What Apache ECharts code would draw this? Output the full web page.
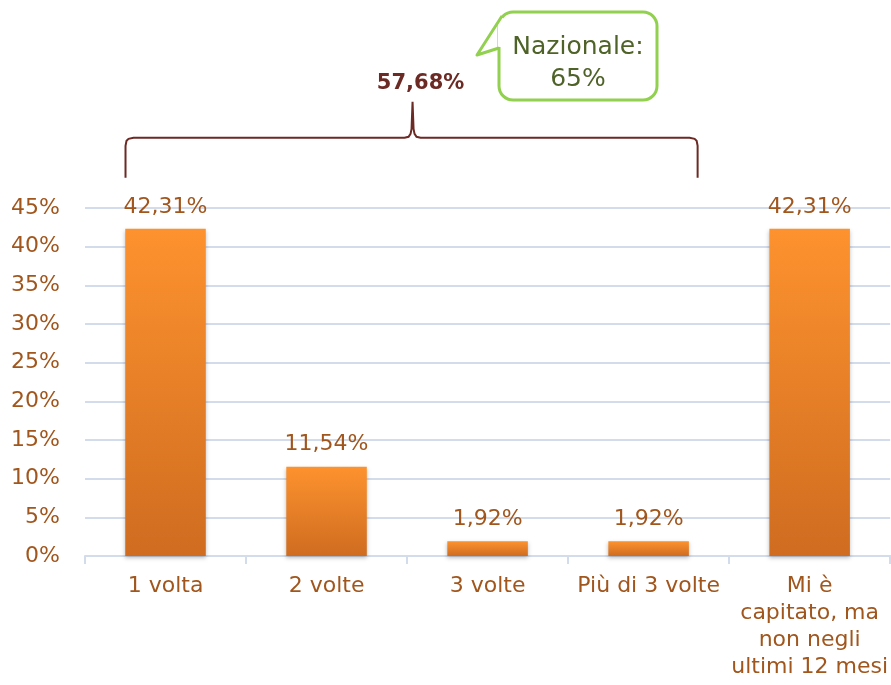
<!DOCTYPE html>
<html>
<head>
<meta charset="utf-8">
<script src="https://cdn.jsdelivr.net/npm/echarts@6/dist/echarts.min.js"></script>
<style>
  html, body { margin: 0; padding: 0; background: #fff; }
  #chart { width: 891px; height: 685px; }
</style>
</head>
<body>
<div id="chart"></div>
<script>
  // categories and values
  const categories = ['1 volta', '2 volte', '3 volte', 'Più di 3 volte', 'Mi è\ncapitato, ma\nnon negli\nultimi 12 mesi']
  const values = [42.31, 11.54, 1.92, 1.92, 42.31]
  const braceLabel = '57,68%'
  const calloutText = 'Nazionale:\n65%'

  const brown = '#a0561d'
  const fontFamily = '"DejaVu Sans", sans-serif'

  const chart = echarts.init(document.getElementById('chart'))

  chart.setOption({
    animation: false,
    grid: {
      left: 85,
      right: 0,
      top: 208,
      bottom: 129
    },
    xAxis: {
      type: 'category',
      data: categories,
      axisLine: { lineStyle: { color: '#d3dcea', width: 2 } },
      axisTick: { show: true, length: 8, lineStyle: { color: '#d3dcea', width: 2 } },
      axisLabel: {
        color: brown,
        fontFamily: fontFamily,
        fontSize: 22,
        margin: 17,
        lineHeight: 27,
        interval: 0
      }
    },
    yAxis: {
      type: 'value',
      min: 0,
      max: 45,
      interval: 5,
      axisLine: { show: false },
      axisTick: { show: false },
      splitLine: { lineStyle: { color: '#d3dcea', width: 2 } },
      axisLabel: {
        color: brown,
        fontFamily: fontFamily,
        fontSize: 22,
        margin: 25,
        formatter: '{value}%'
      }
    },
    series: [
      {
        type: 'bar',
        data: values,
        barWidth: '50%',
        itemStyle: {
          color: new echarts.graphic.LinearGradient(0, 0, 0, 1, [
            { offset: 0, color: '#fd922e' },
            { offset: 1, color: '#cf6c20' }
          ]),
          shadowColor: 'rgba(0,0,0,0.25)',
          shadowBlur: 4,
          shadowOffsetY: 2
        },
        label: {
          show: true,
          position: 'top',
          distance: 11,
          color: brown,
          fontFamily: fontFamily,
          fontSize: 22,
          formatter: p => p.value.toFixed(2).replace('.', ',') + '%'
        }
      }
    ]
  })

  // brace over the first four bars, positioned from the axes
  const left = chart.convertToPixel({ xAxisIndex: 0 }, categories[0]) - 40
  const right = chart.convertToPixel({ xAxisIndex: 0 }, categories[3]) + 49
  const mid = chart.convertToPixel({ xAxisIndex: 0 }, categories[1]) + 86
  const yFoot = chart.convertToPixel({ yAxisIndex: 0 }, 48.9)
  const yBar = yFoot - 40
  const yTip = yBar - 36

  chart.setOption({
    graphic: [
      {
        type: 'polyline',
        shape: {
          points: [
            [left, yFoot], [left, yBar + 8], [left + 1, yBar + 3], [left + 3, yBar + 1], [left + 8, yBar],
            [mid - 8, yBar], [mid - 4, yBar - 1], [mid - 2, yBar - 4], [mid - 1, yBar - 9], [mid, yTip],
            [mid + 1, yBar - 9], [mid + 2, yBar - 4], [mid + 4, yBar - 1], [mid + 8, yBar],
            [right - 8, yBar], [right - 3, yBar + 1], [right - 1, yBar + 3], [right, yBar + 8], [right, yFoot]
          ]
        },
        style: { fill: null, stroke: '#6b2a24', lineWidth: 2 }
      },
      {
        type: 'text',
        x: mid + 8,
        y: yTip - 18,
        style: {
          text: braceLabel,
          fill: '#6b2a24',
          font: 'bold 21px ' + fontFamily,
          align: 'center',
          verticalAlign: 'middle'
        }
      },
      {
        type: 'rect',
        shape: { x: 499, y: 12, width: 158, height: 88, r: 14 },
        style: { fill: '#fff', stroke: '#92d050', lineWidth: 3 }
      },
      {
        type: 'rect',
        shape: { x: 498, y: 18, width: 5, height: 29 },
        style: { fill: '#fff' }
      },
      {
        type: 'polyline',
        shape: { points: [[502, 16], [477, 55], [499, 48]] },
        style: { fill: null, stroke: '#92d050', lineWidth: 3, lineJoin: 'round' }
      },
      {
        type: 'text',
        x: 578,
        y: 63,
        style: {
          text: calloutText,
          fill: '#4f6228',
          font: '25px ' + fontFamily,
          align: 'center',
          verticalAlign: 'middle',
          lineHeight: 32
        }
      }
    ]
  })
</script>
</body>
</html>
